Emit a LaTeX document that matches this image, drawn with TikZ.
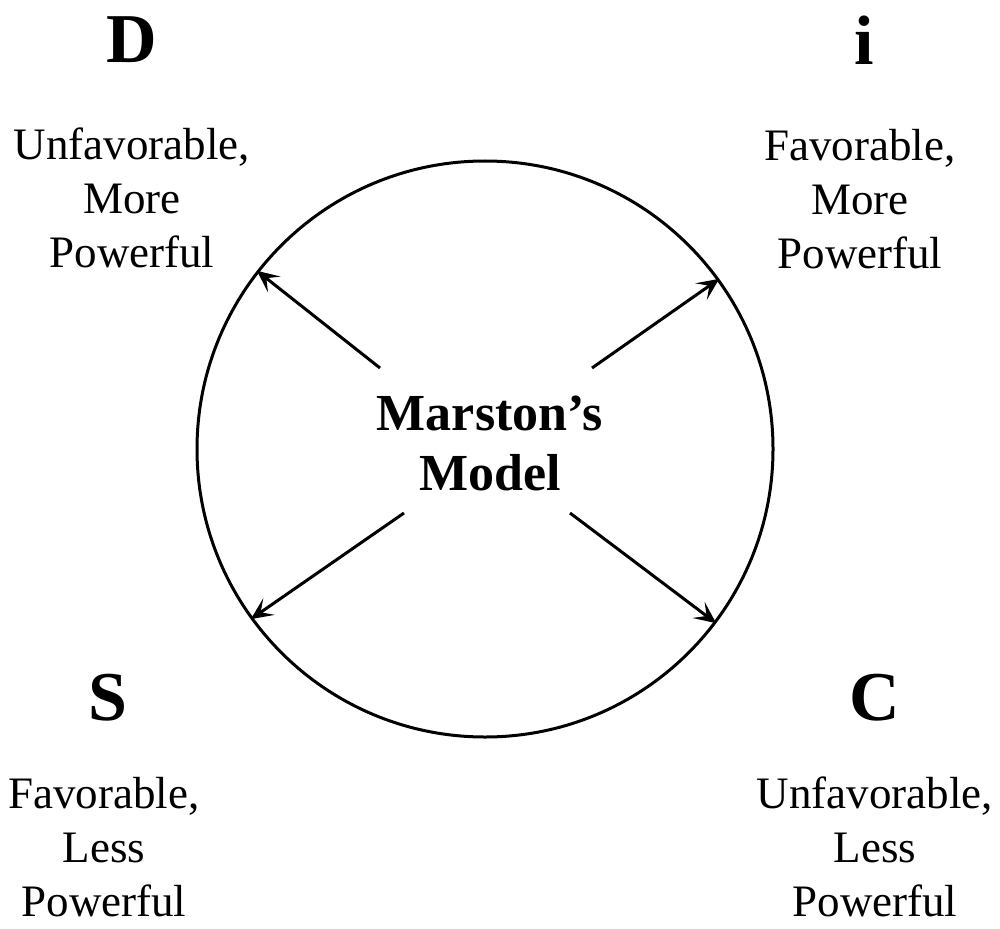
\documentclass[tikz,border=0pt]{standalone}
\usepackage{fontspec}
\setmainfont{Liberation Serif}
\usetikzlibrary{arrows.meta}
\begin{document}
\begin{tikzpicture}[x=1pt,y=-1pt,
  letter/.style={anchor=base,inner sep=0pt,font=\fontsize{70}{80}\selectfont\bfseries},
  trait/.style={anchor=base,inner sep=0pt,align=center,font=\fontsize{45}{54}\selectfont},
  title/.style={anchor=base,inner sep=0pt,align=center,font=\fontsize{52}{60}\selectfont\bfseries},
  ray/.style={line width=3pt,-{Stealth[length=22pt,width=20pt,inset=10pt]}}]
  \useasboundingbox (0,0) rectangle (1000,928);
  % the model circle
  \node[circle,draw,line width=3pt,minimum size=576pt,inner sep=0pt] (ring) at (485,449) {};
  % multi-line nodes sit on the baseline of their last line
  \node[title] (model) at (490,490) {Marston’s\\Model};
  % the four corner letters
  \node[letter] (D) at (132,63) {D};
  \node[letter] (I) at (864,65) {i};
  \node[letter] (S) at (108,720) {S};
  \node[letter] (C) at (875,720) {C};
  % the four descriptions
  \node[trait] (dtxt) at (132,267) {Unfavorable,\\More\\Powerful};
  \node[trait] (itxt) at (860,268) {Favorable,\\More\\Powerful};
  \node[trait] (stxt) at (104,916) {Favorable,\\Less\\Powerful};
  \node[trait] (ctxt) at (875,916) {Unfavorable,\\Less\\Powerful};
  % arrows from the centre to the rim
  \coordinate (t1) at (380,368);
  \coordinate (t2) at (592,368);
  \coordinate (t3) at (404,513);
  \coordinate (t4) at (570,513);
  \draw[ray] (t1) -- (ring.142.6);
  \draw[ray] (t2) -- (ring.36.8);
  \draw[ray] (t3) -- (ring.216.9);
  \draw[ray] (t4) -- (ring.-37);
\end{tikzpicture}
\end{document}
